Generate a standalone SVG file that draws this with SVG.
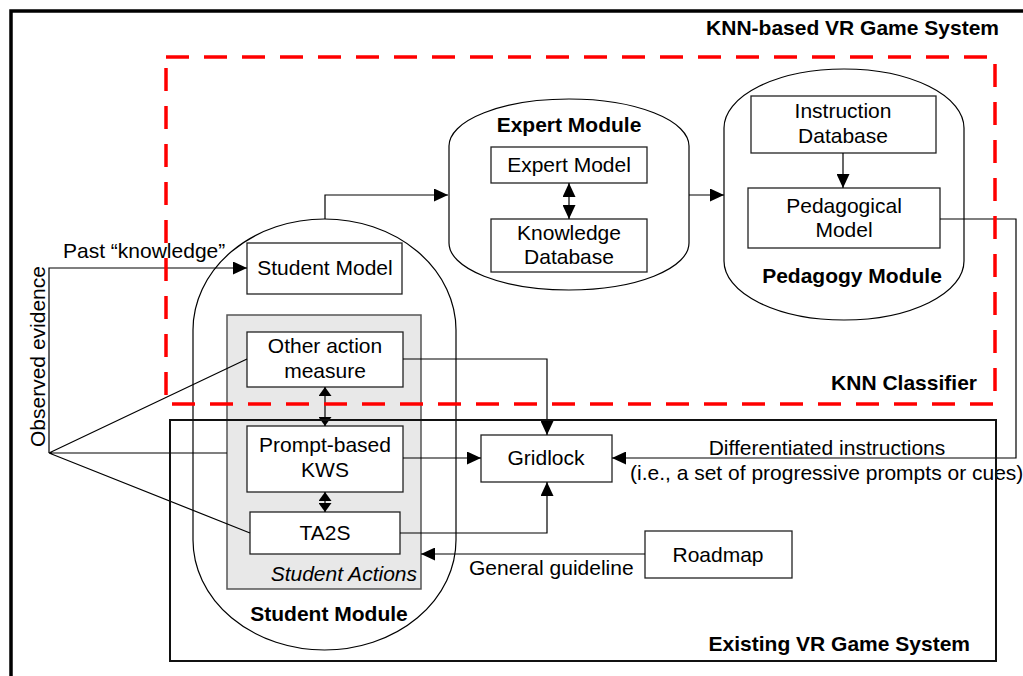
<svg xmlns="http://www.w3.org/2000/svg" width="1023" height="676" viewBox="0 0 1023 676">
<defs>
<style>
.t{font-family:"Liberation Sans",Arial,sans-serif;font-size:21px;fill:#000}
.b{font-weight:bold}
.i{font-style:italic}
.c{text-anchor:middle}
.r{text-anchor:end}
.box{fill:#fff;stroke:#222;stroke-width:1.3}
.mod{fill:#fff;stroke:#000;stroke-width:1.2}
.ln{fill:none;stroke:#000;stroke-width:1.2}
</style>
<marker id="a" viewBox="0 0 14 13" refX="14" refY="6.5" markerWidth="14" markerHeight="13" markerUnits="userSpaceOnUse" orient="auto-start-reverse"><path d="M0,0L14,6.5L0,13z" fill="#000"/></marker>
<marker id="s" viewBox="0 0 9 13" refX="9" refY="6.5" markerWidth="9" markerHeight="13" markerUnits="userSpaceOnUse" orient="auto-start-reverse"><path d="M0,0L9,6.5L0,13z" fill="#000"/></marker>
</defs>
<rect width="1023" height="676" fill="#fff"/>

<g id="student-module">
<path class="mod" d="M193,330 A131.5,111 0 0 1 456,330 L456,540 A131.5,110 0 0 1 193,540 Z"/>
<text class="t b c" x="329" y="621">Student Module</text>
</g>
<g id="student-actions">
<rect x="227" y="315" width="194" height="274" fill="#e8e8e8" stroke="#555" stroke-width="1.5"/>
<text class="t i r" x="417" y="581">Student Actions</text>
</g>
<g id="student-model">
<rect class="box" x="247" y="243" width="155" height="51"/>
<text class="t c" x="325" y="275">Student Model</text>
</g>
<g id="other-action-measure">
<rect class="box" x="247" y="332" width="156" height="55"/>
<text class="t c" x="325" y="353">Other action</text>
<text class="t c" x="325" y="378">measure</text>
</g>
<g id="prompt-based-kws">
<rect class="box" x="247" y="426" width="156" height="66"/>
<text class="t c" x="325" y="452">Prompt-based</text>
<text class="t c" x="325" y="477">KWS</text>
</g>
<g id="ta2s">
<rect class="box" x="250" y="512" width="150" height="42"/>
<text class="t c" x="325" y="540">TA2S</text>
</g>
<g id="expert-module">
<path class="mod" d="M449,146 A120,47 0 0 1 689,146 L689,243 A120,47 0 0 1 449,243 Z"/>
<text class="t b c" x="569" y="132">Expert Module</text>
</g>
<g id="expert-model">
<rect class="box" x="491" y="147" width="156" height="36"/>
<text class="t c" x="569" y="172">Expert Model</text>
</g>
<g id="knowledge-database">
<rect class="box" x="491" y="219" width="156" height="53"/>
<text class="t c" x="569" y="240">Knowledge</text>
<text class="t c" x="569" y="264">Database</text>
</g>
<g id="pedagogy-module">
<path class="mod" d="M724,128 A120,59 0 0 1 964,128 L964,261 A120,59 0 0 1 724,261 Z"/>
<text class="t b c" x="852" y="283">Pedagogy Module</text>
</g>
<g id="instruction-database">
<rect class="box" x="751" y="96" width="185" height="57"/>
<text class="t c" x="843" y="118">Instruction</text>
<text class="t c" x="843" y="143">Database</text>
</g>
<g id="pedagogical-model">
<rect class="box" x="748" y="188" width="192" height="60"/>
<text class="t c" x="844" y="213">Pedagogical</text>
<text class="t c" x="844" y="237">Model</text>
</g>
<g id="gridlock">
<rect class="box" x="481" y="435" width="131" height="47"/>
<text class="t c" x="546" y="465">Gridlock</text>
</g>
<g id="roadmap">
<rect class="box" x="645" y="531" width="147" height="47"/>
<text class="t c" x="718" y="562">Roadmap</text>
</g>

<g id="connectors">
<path class="ln" d="M49,453 V268 H247" marker-end="url(#a)"/>
<path class="ln" d="M49,453 L247,359 M49,453 H227 M49,453 L250,533"/>
<path class="ln" d="M325,219 V195 H448" marker-end="url(#a)"/>
<path class="ln" d="M689,195 H724" marker-end="url(#a)"/>
<path class="ln" d="M569,183 V219" marker-start="url(#a)" marker-end="url(#a)"/>
<path class="ln" d="M843,153 V188" marker-end="url(#a)"/>
<path class="ln" d="M940,219 H1016 V458 H612" marker-end="url(#a)"/>
<path class="ln" d="M403,359 H547 V435" marker-end="url(#a)"/>
<path class="ln" d="M403,458 H481" marker-end="url(#a)"/>
<path class="ln" d="M400,533 H547 V482" marker-end="url(#a)"/>
<path class="ln" d="M645,554 H421" marker-end="url(#a)"/>
<path class="ln" stroke-width="2" d="M325,387 V426" marker-start="url(#s)" marker-end="url(#s)"/>
<path class="ln" stroke-width="2" d="M325,492 V512" marker-start="url(#s)" marker-end="url(#s)"/>
<text class="t" x="63" y="258">Past “knowledge”</text>
<text class="t" transform="translate(45,447) rotate(-90)">Observed evidence</text>
<text class="t c" x="827" y="455">Differentiated instructions</text>
<text class="t" x="630" y="480">(i.e., a set of progressive prompts or cues)</text>
<text class="t" x="469" y="575">General guideline</text>
</g>

<g id="knn-based-vr-game-system">
<path d="M11,676 V11 H1023" fill="none" stroke="#000" stroke-width="3.5"/>
<text class="t b r" x="999" y="35">KNN-based VR Game System</text>
</g>
<g id="knn-classifier">
<rect x="166" y="57" width="829" height="347" fill="none" stroke="#f00" stroke-width="3.5" stroke-dasharray="23,15"/>
<text class="t b r" x="977" y="390">KNN Classifier</text>
</g>
<g id="existing-vr-game-system">
<rect x="170" y="420" width="826" height="241" fill="none" stroke="#111" stroke-width="2"/>
<text class="t b r" x="970" y="651">Existing VR Game System</text>
</g>
</svg>
